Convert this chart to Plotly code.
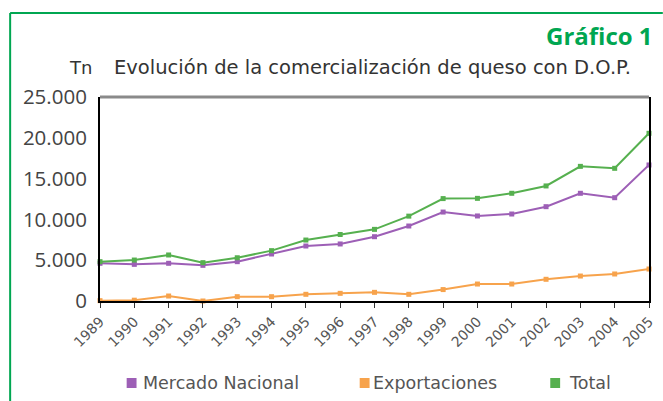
import plotly.graph_objects as go

years = list(range(1989, 2006))
mercado_nacional = [4620, 4490, 4620, 4370, 4820, 5760, 6740, 6990, 7880, 9190, 10900, 10420, 10660, 11560, 13200, 12660, 16670]
exportaciones = [40, 100, 610, 0, 530, 530, 820, 940, 1060, 820, 1400, 2080, 2080, 2660, 3060, 3310, 3920]
total = [4820, 5020, 5640, 4700, 5300, 6170, 7470, 8150, 8780, 10400, 12550, 12580, 13200, 14100, 16500, 16260, 20550]
y_ticks = [0, 5000, 10000, 15000, 20000, 25000]

series = [
    ("Mercado Nacional", mercado_nacional, "#9d5fb6"),
    ("Exportaciones", exportaciones, "#f7a34c"),
    ("Total", total, "#56b04f"),
]

W, H = 663, 401
L, R, T, B = 100, 656, 97, 301  # plot area in pixels


def px_x(p):
    return (p - L) / (R - L)


def px_y(p):
    return (B - p) / (B - T)


fig = go.Figure()
for name, vals, col in series:
    fig.add_trace(go.Scatter(
        x=years, y=vals, mode="lines+markers", name=name,
        line=dict(color=col, width=2),
        marker=dict(symbol="square", size=5, color=col),
        showlegend=False, cliponaxis=False,
    ))

green = "#00a651"
shapes = [
    dict(type="line", xref="paper", yref="paper", x0=px_x(9), x1=px_x(9), y0=px_y(13), y1=px_y(420),
         line=dict(color=green, width=2)),
    dict(type="line", xref="paper", yref="paper", x0=px_x(9), x1=px_x(670), y0=px_y(13), y1=px_y(13),
         line=dict(color=green, width=2)),
    dict(type="line", xref="paper", yref="paper", x0=0, x1=1, y0=1, y1=1,
         line=dict(color="#8a8a8a", width=3)),
]

annotations = [
    dict(text="<b>Gráfico 1</b>", xref="paper", yref="paper", x=px_x(662), y=px_y(36),
         xanchor="right", yanchor="middle", showarrow=False,
         font=dict(size=24, color=green, family="Open Sans")),
    dict(text="Tn", xref="paper", yref="paper", x=px_x(67), y=px_y(67),
         xanchor="left", yanchor="middle", showarrow=False,
         font=dict(size=18, color="#333333", family="DejaVu Sans")),
    dict(text="Evolución de la comercialización de queso con D.O.P.", xref="paper", yref="paper",
         x=px_x(112), y=px_y(67), xanchor="left", yanchor="middle", showarrow=False,
         font=dict(size=19.5, color="#333333", family="DejaVu Sans")),
]

# manual legend (square swatches + labels)
legend_pos = [(132, 142), (368, 374), (561, 573)]
for (name, vals, col), (sx, tx) in zip(series, legend_pos):
    shapes.append(dict(type="rect", xref="paper", yref="paper",
                       x0=px_x(sx - 5), x1=px_x(sx + 5), y0=px_y(388), y1=px_y(378),
                       fillcolor=col, line=dict(width=0)))
    annotations.append(dict(text=name, xref="paper", yref="paper", x=px_x(tx), y=px_y(383),
                            xanchor="left", yanchor="middle", showarrow=False,
                            font=dict(size=17.5, color="#555555", family="DejaVu Sans")))

fig.update_layout(
    width=W, height=H,
    margin=dict(l=L, r=W - R, t=T, b=H - B, pad=0),
    paper_bgcolor="white", plot_bgcolor="white",
    separators=",.",
    font=dict(family="Open Sans", color="#444444"),
    shapes=shapes, annotations=annotations,
    showlegend=False,
    xaxis=dict(range=[1989, 2005], tickmode="array", tickvals=years, ticktext=[str(y) for y in years],
               tickangle=-45, tickfont=dict(size=14, color="#555555", family="DejaVu Sans"),
               showgrid=False, zeroline=False, showline=True, linecolor="black", linewidth=2,
               ticks="outside", ticklen=5, tickcolor="#333333"),
    yaxis=dict(range=[0, 25000], tickmode="array", tickvals=y_ticks, tickformat=",d",
               tickfont=dict(size=20.5, color="#444444", family="Open Sans"),
               showgrid=False, zeroline=False, showline=True, linecolor="black", linewidth=2,
               mirror=True, ticks="", ticklabelstandoff=7),
)

fig.write_html("out.html", config={"displayModeBar": False},
               post_script="document.body.style.margin='0px';document.body.style.overflow='hidden';")
